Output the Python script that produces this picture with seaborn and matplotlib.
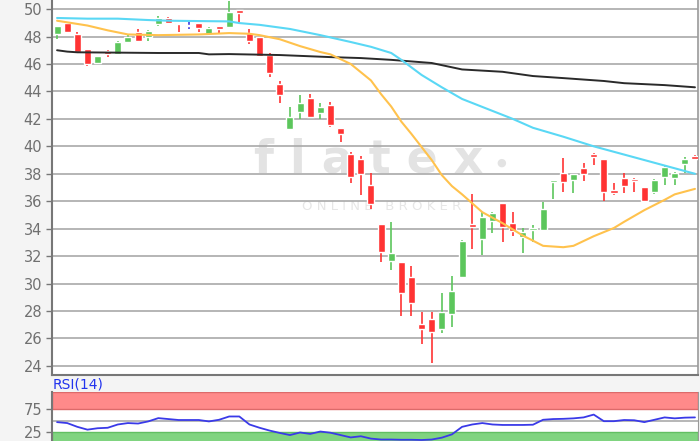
import seaborn as sns
import matplotlib.pyplot as plt
import numpy as np
import pandas as pd

# Daily candles (index 0..63)
opens = [48.2, 49.0, 48.2, 47.1, 46.05, 46.95, 46.7, 47.6, 48.3, 48.0,
         48.9, 49.35, 48.92, 48.76, 49.0, 48.2, 48.8, 48.7, 49.95, 48.25,
         47.95, 46.65, 44.55, 41.25, 42.5, 43.5, 42.45, 43.0, 41.35, 39.45,
         39.1, 37.2, 34.35, 31.65, 31.55, 30.5, 27.05, 27.4, 26.7, 27.8,
         30.5, 34.35, 33.25, 34.55, 35.85, 34.4, 33.4, 33.9, 33.9, 37.4,
         38.05, 37.55, 38.4, 39.45, 39.05, 36.85, 37.7, 37.6, 37.05, 36.65,
         37.75, 37.7, 38.7, 39.3]
highs = [48.8, 49.05, 48.3, 47.1, 46.6, 47.0, 47.65, 48.15, 48.55, 48.45,
         49.5, 49.45, 48.92, 49.05, 49.0, 48.7, 48.8, 50.6, 49.95, 48.55,
         48.0, 46.8, 44.75, 42.85, 43.75, 43.8, 43.15, 43.2, 41.35, 39.6,
         39.3, 38.05, 34.35, 34.5, 31.55, 31.3, 27.95, 27.95, 29.3, 30.55,
         33.2, 36.5, 35.2, 35.2, 35.9, 35.2, 34.05, 34.3, 35.95, 37.55,
         39.15, 38.0, 38.8, 39.5, 39.1, 37.35, 38.05, 37.7, 37.05, 37.6,
         38.55, 38.1, 39.2, 39.4]
lows = [47.8, 48.3, 46.8, 45.85, 46.0, 46.5, 46.65, 47.6, 47.65, 47.67,
        48.8, 48.95, 48.3, 48.55, 48.3, 48.15, 48.25, 48.7, 49.0, 47.45,
        46.55, 45.05, 43.15, 41.25, 42.0, 42.1, 42.0, 41.4, 40.3, 37.3,
        36.45, 35.45, 31.55, 31.0, 27.65, 27.65, 25.6, 24.2, 26.4, 26.85,
        30.5, 32.5, 32.1, 33.7, 33.0, 33.45, 32.25, 33.05, 33.85, 36.15,
        36.65, 36.6, 37.5, 38.65, 36.0, 36.45, 36.6, 36.65, 36.0, 36.5,
        37.2, 37.2, 38.05, 39.05]
closes = [48.75, 48.3, 46.9, 46.0, 46.6, 46.75, 47.6, 48.0, 47.7, 48.4,
          49.35, 49.0, 48.88, 48.76, 48.6, 48.6, 48.55, 49.8, 49.7, 47.7,
          46.6, 45.35, 43.75, 42.15, 43.15, 42.15, 42.85, 41.55, 40.9, 37.75,
          37.98, 35.8, 32.3, 32.25, 29.3, 28.6, 26.7, 26.5, 27.95, 29.45,
          33.1, 34.1, 34.85, 35.15, 34.1, 33.85, 33.75, 34.05, 35.45, 37.55,
          37.4, 38.0, 38.0, 39.2, 36.65, 36.6, 37.1, 37.5, 36.0, 37.55,
          38.5, 38.05, 39.05, 39.1]

# Moving averages (read at candle indices)
ma_fast_x = [0, 3, 5, 7, 10, 14, 17, 19, 20, 22, 24, 26, 27, 29, 30, 31, 32, 33,
             34, 35, 37, 38, 39, 40, 42, 44, 46, 48, 50, 51, 53, 55, 56, 58, 60, 61, 63]
ma_fast = [49.15, 48.8, 48.45, 48.15, 48.1, 48.15, 48.25, 48.2, 48.1, 47.8, 47.3,
           46.87, 46.7, 46.0, 45.4, 44.8, 43.8, 42.9, 41.8, 40.9, 39.0, 37.9, 37.1,
           36.5, 35.2, 34.4, 33.5, 32.75, 32.65, 32.75, 33.45, 34.05, 34.5, 35.35,
           36.1, 36.5, 36.9]
ma_mid_x = [0, 3, 6, 9, 11, 17, 18, 20, 23, 26, 29, 31, 33, 34, 36, 38, 40, 45,
            47, 50, 53, 56, 60, 63]
ma_mid = [49.35, 49.3, 49.3, 49.2, 49.15, 49.1, 48.98, 48.85, 48.55, 48.1, 47.6,
          47.25, 46.8, 46.3, 45.2, 44.3, 43.45, 42.0, 41.35, 40.7, 40.0, 39.4,
          38.6, 38.0]
ma_slow_x = [0, 1, 2, 10, 14, 15, 17, 22, 27, 30, 33, 37, 40, 44, 47, 50, 54,
             56, 60, 63]
ma_slow = [47.0, 46.9, 46.85, 46.8, 46.8, 46.7, 46.72, 46.65, 46.5, 46.43, 46.3,
           46.07, 45.6, 45.43, 45.12, 44.97, 44.76, 44.6, 44.46, 44.3]

rsi = [47, 45, 37, 31, 34, 35, 42, 45, 44, 48.5, 55.5, 53.5, 51.5, 51.5, 51.5,
       48.5, 52, 59, 59, 42, 35, 29, 24, 19.5, 25, 22, 27, 24.5, 19.5, 14.5, 17,
       12, 10, 10, 9.5, 9.5, 9, 10, 14, 21, 37, 42, 45, 42, 41, 41, 41, 41.5, 52,
       53.5, 54, 55, 57, 63, 49, 49, 51.5, 51, 47, 52, 57, 55, 56.5, 57]

price_ticks = list(range(24, 51, 2))
rsi_ticks = [25, 75]

df = pd.DataFrame({"open": opens, "high": highs, "low": lows, "close": closes})
df["x"] = np.arange(len(df))

sns.set_style("white")
plt.rcParams["font.family"] = ["DejaVu Sans"]

fig = plt.figure(figsize=(7, 4.41), dpi=100)
fig.patch.set_facecolor("#f4f4f4")
ax = fig.add_axes([52 / 700, 66 / 441, 646 / 700, 375 / 441])
rax = fig.add_axes([52 / 700, 0, 646 / 700, 49 / 441])
for a in (ax, rax):
    a.set_facecolor("white")
    a.set_xlim(-0.5, 63.3)
    a.set_xticks([])

# watermark
ax.text(0.49, 0.539, "f l a t e x", transform=ax.transAxes, ha="center",
        va="baseline", fontsize=33, fontweight="bold", color="#e3e3e3", zorder=0)
ax.text(0.695, 0.565, "●", transform=ax.transAxes, ha="center",
        va="center", fontsize=8, color="#e3e3e3", zorder=0)
ax.text(0.51, 0.448, "O N L I N E   B R O K E R", transform=ax.transAxes,
        ha="center", va="center", fontsize=9.5, color="#e6e6e6", zorder=0)

# candles
colors = []
for o, c in zip(df["open"], df["close"]):
    if c > o:
        colors.append("#5cc65c")
    elif c < o:
        colors.append("#ff3333")
    else:
        colors.append("#3a3ae0")
ax.vlines(df["x"], df["low"], df["high"], colors=colors, lw=1.2, zorder=3)
body = np.maximum((df["close"] - df["open"]).abs(), 0.07)
ax.bar(df["x"], body, bottom=np.minimum(df["open"], df["close"]), width=0.7,
       color=colors, zorder=4)

sns.lineplot(x=ma_slow_x, y=ma_slow, ax=ax, color="#2a2a2a", lw=1.4, zorder=5)
sns.lineplot(x=ma_mid_x, y=ma_mid, ax=ax, color="#5ad8f5", lw=1.5, zorder=5)
sns.lineplot(x=ma_fast_x, y=ma_fast, ax=ax, color="#ffc24d", lw=1.5, zorder=5)

ax.set_ylim(23.34, 50.66)
ax.set_yticks(price_ticks)
ax.yaxis.grid(True, color="#a9a9a9", lw=1.2, zorder=1)
ax.set_axisbelow(True)
ax.tick_params(axis="y", length=4, width=1, color="#777777", labelcolor="#707070",
               labelsize=10.5, pad=3, left=True)
ax.spines["top"].set_visible(False)
for s in ("left", "bottom"):
    ax.spines[s].set_color("#777777")
    ax.spines[s].set_linewidth(1.5)
ax.spines["right"].set_color("#9a9a9a")
ax.spines["right"].set_linewidth(1.2)

# RSI panel
rax.axhspan(75, 111, facecolor="#ff8a8a", edgecolor="#dd6a6a", lw=1, zorder=1)
rax.axhspan(0, 25, facecolor="#80d480", edgecolor="#62bf62", lw=1, zorder=1)
rax.axhline(50, color="#aaaaaa", lw=1.2, zorder=1)
sns.lineplot(x=df["x"], y=rsi, ax=rax, color="#3a3ae8", lw=1.3, zorder=3)
rax.set_ylim(6.9, 111)
rax.set_yticks(rsi_ticks)
rax.tick_params(axis="y", length=4, width=1, color="#777777", labelcolor="#707070",
                labelsize=10.5, pad=3, left=True)
rax.set_xlabel("")
rax.set_ylabel("")
ax.set_ylabel("")
rax.spines["top"].set_visible(False)
rax.spines["bottom"].set_visible(False)
rax.spines["left"].set_color("#777777")
rax.spines["left"].set_linewidth(1.5)
rax.spines["right"].set_color("#9a9a9a")

fig.text(53 / 700, (441 - 385) / 441, "RSI(14)", color="#2233ee", fontsize=10,
         va="center", ha="left")

fig.savefig("out.png", dpi=100, facecolor=fig.get_facecolor())
plt.close(fig)
